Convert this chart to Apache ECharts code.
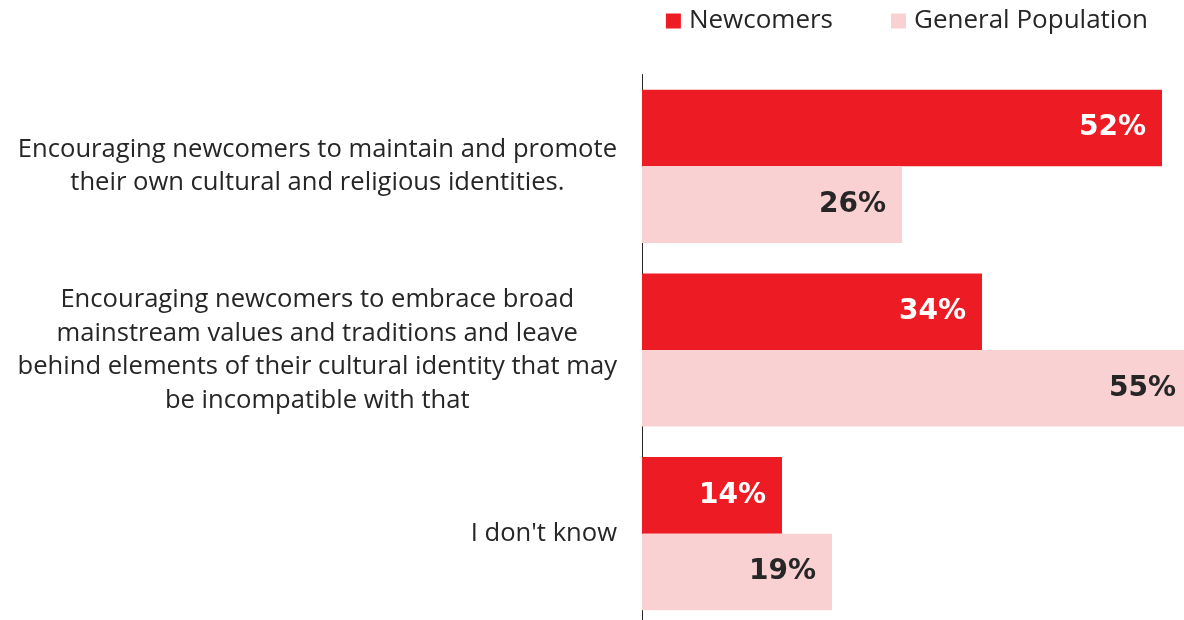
<!DOCTYPE html>
<html>
<head>
<meta charset="utf-8">
<script src="https://cdn.jsdelivr.net/npm/echarts@6/dist/echarts.min.js"></script>
<style>
  html, body { margin: 0; padding: 0; background: #ffffff; }
  #chart { width: 1184px; height: 620px; }
</style>
</head>
<body>
<div id="chart"></div>
<script>
// Survey answers (line breaks as they wrap on the axis)
const categories = [
  'Encouraging newcomers to maintain and promote\ntheir own cultural and religious identities.',
  'Encouraging newcomers to embrace broad\nmainstream values and traditions and leave\nbehind elements of their cultural identity that may\nbe incompatible with that',
  "I don't know"
];
const seriesNames = ['Newcomers', 'General Population'];
const newcomers = [52, 34, 14];
const generalPopulation = [26, 55, 19];

const RED = '#ED1C24';
const PINK = '#F9D1D2';
const TEXT = '#262626';
const LABEL_FONT = 'Open Sans';

const chart = echarts.init(document.getElementById('chart'), null, { renderer: 'canvas' });

function valueLabel(color) {
  return {
    show: true,
    position: 'insideRight',
    distance: 16,
    formatter: '{c}%',
    color: color,
    fontFamily: 'DejaVu Sans',
    fontWeight: 'bold',
    fontSize: 28
  };
}

chart.setOption({
  animation: false,
  backgroundColor: '#ffffff',
  legend: {
    top: 3,
    right: 31,
    itemWidth: 15,
    itemHeight: 15,
    itemGap: 58,
    icon: 'rect',
    textStyle: { fontFamily: LABEL_FONT, fontSize: 26, color: TEXT, padding: [0, 0, 0, 3] },
    data: seriesNames
  },
  // the value axis runs past the right and bottom edges, so the plot is cut off there
  grid: {
    left: 642, width: 550, top: 74.5, height: 551,
    containLabel: false,
    outerBoundsMode: 'none'
  },
  xAxis: {
    type: 'value',
    min: 0,
    max: 55,
    show: false
  },
  yAxis: {
    type: 'category',
    inverse: true,
    data: categories,
    axisLine: { show: true, lineStyle: { color: '#262626', width: 1 } },
    axisTick: { show: false },
    axisLabel: {
      margin: 25,
      formatter: function (v) {
        return v.split('\n').map(function (l) { return '{c|' + l + '}'; }).join('\n');
      },
      rich: {
        c: {
          align: 'center',
          fontFamily: LABEL_FONT,
          fontSize: 25.6,
          lineHeight: 33.5,
          color: TEXT
        }
      }
    }
  },
  series: [
    {
      name: seriesNames[0],
      type: 'bar',
      data: newcomers,
      barGap: '0%',
      barCategoryGap: '16.6%',
      itemStyle: { color: RED },
      label: valueLabel('#ffffff')
    },
    {
      name: seriesNames[1],
      type: 'bar',
      data: generalPopulation,
      barGap: '0%',
      barCategoryGap: '16.6%',
      itemStyle: { color: PINK },
      label: valueLabel(TEXT)
    }
  ]
});
</script>
</body>
</html>
